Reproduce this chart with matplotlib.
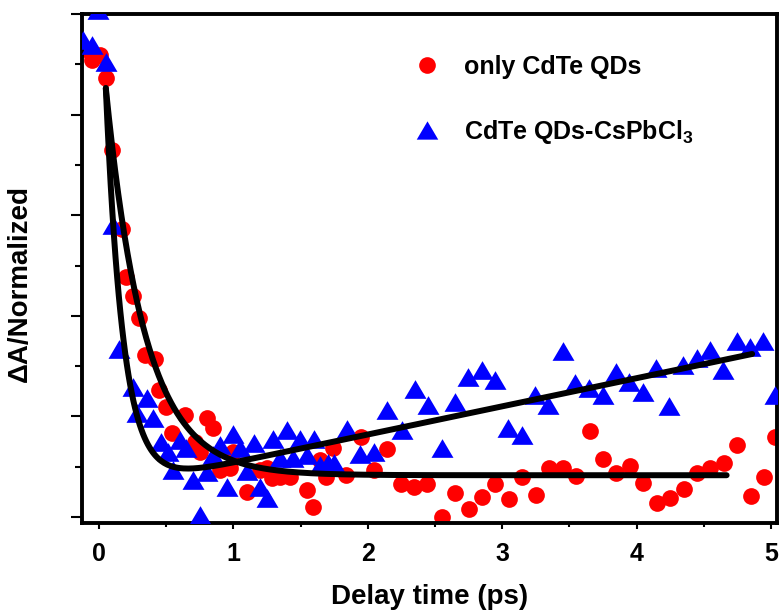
import numpy as np
import matplotlib
matplotlib.use("Agg")
import matplotlib.pyplot as plt
from matplotlib.lines import Line2D
from matplotlib.ticker import MultipleLocator, NullFormatter

plt.rcParams["font.family"] = ["Liberation Sans", "DejaVu Sans"]
plt.rcParams["font.weight"] = "bold"
plt.rcParams["mathtext.fontset"] = "custom"
plt.rcParams["mathtext.rm"] = "Liberation Sans:bold"
plt.rcParams["mathtext.bf"] = "Liberation Sans:bold"

# only CdTe QDs
red_t = [-0.11, -0.054, 0.007, 0.05, 0.099, 0.169, 0.20, 0.25, 0.30, 0.342, 0.417,
         0.449, 0.50, 0.54, 0.64, 0.714, 0.75, 0.80, 0.85, 0.90, 0.975, 1.0, 1.10,
         1.20, 1.25, 1.29, 1.35, 1.42, 1.545, 1.595, 1.645, 1.69, 1.74, 1.84, 1.95,
         2.046, 2.145, 2.245, 2.344, 2.443, 2.55, 2.65, 2.75, 2.85, 2.95, 3.05,
         3.15, 3.25, 3.35, 3.45, 3.55, 3.65, 3.75, 3.85, 3.95, 4.05, 4.15, 4.25,
         4.35, 4.45, 4.55, 4.65, 4.75, 4.85, 4.95, 5.03]
red_y = [0.93, 0.909, 0.918, 0.873, 0.730, 0.573, 0.478, 0.439, 0.396, 0.322, 0.314,
         0.252, 0.219, 0.167, 0.203, 0.150, 0.130, 0.196, 0.176, 0.093, 0.097, 0.130,
         0.050, 0.093, 0.097, 0.078, 0.080, 0.080, 0.054, 0.020, 0.113, 0.080, 0.137,
         0.083, 0.159, 0.093, 0.135, 0.066, 0.060, 0.066, 0.0, 0.048, 0.016, 0.040,
         0.066, 0.036, 0.080, 0.044, 0.097, 0.097, 0.082, 0.171, 0.115, 0.087, 0.101,
         0.068, 0.028, 0.037, 0.055, 0.087, 0.097, 0.108, 0.143, 0.042, 0.079, 0.159]

# CdTe QDs-CsPbCl3
blue_t = [-0.12, -0.054, -0.007, 0.052, 0.106, 0.151, 0.251, 0.28, 0.355, 0.404,
          0.461, 0.516, 0.553, 0.603, 0.647, 0.702, 0.751, 0.801, 0.85, 0.90, 0.95,
          1.0, 1.05, 1.10, 1.15, 1.195, 1.246, 1.297, 1.349, 1.399, 1.446, 1.496,
          1.548, 1.597, 1.647, 1.70, 1.75, 1.845, 1.944, 2.044, 2.146, 2.252, 2.351,
          2.45, 2.55, 2.649, 2.748, 2.848, 2.946, 3.045, 3.145, 3.244, 3.343, 3.45,
          3.545, 3.648, 3.748, 3.847, 3.946, 4.045, 4.144, 4.243, 4.347, 4.447,
          4.546, 4.645, 4.745, 4.844, 4.943, 5.03]
blue_y = [0.948, 0.938, 1.009, 0.905, 0.581, 0.335, 0.259, 0.206, 0.236, 0.196,
          0.150, 0.130, 0.093, 0.153, 0.137, 0.074, 0.004, 0.090, 0.123, 0.143, 0.059,
          0.165, 0.138, 0.091, 0.147, 0.059, 0.037, 0.155, 0.117, 0.173, 0.117, 0.156,
          0.123, 0.156, 0.103, 0.107, 0.107, 0.175, 0.125, 0.130, 0.213, 0.172, 0.254,
          0.223, 0.137, 0.229, 0.279, 0.292, 0.272, 0.176, 0.163, 0.243, 0.223, 0.330,
          0.266, 0.256, 0.243, 0.289, 0.269, 0.249, 0.296, 0.221, 0.302, 0.316,
          0.332, 0.292, 0.349, 0.339, 0.349, 0.243]

# fit parameters (exponential decay + offset / linear rise)
red_fit = dict(t0=0.05, t1=4.67, amp=0.77, tau=0.29, offset=0.083)
blue_fit = dict(t0=0.05, t1=4.86, amp=0.798, tau=0.13, offset=0.052, slope=0.056)

fig = plt.figure(figsize=(7.82, 6.16), dpi=100)
ax = fig.add_axes([0.1049, 0.151, 0.8887, 0.826])

tri = [(0, 0.85), (-1, -0.85), (1, -0.85), (0, 0.85)]
ax.scatter(red_t, red_y, s=145, c="#ff0000", marker="o", linewidths=0, zorder=2)
ax.scatter(blue_t, blue_y, s=250, c="#0000ff", marker=tri, linewidths=0, zorder=3)

tr = np.linspace(red_fit["t0"], red_fit["t1"], 400)
yr = red_fit["amp"] * np.exp(-(tr - red_fit["t0"]) / red_fit["tau"]) + red_fit["offset"]
ax.plot(tr, yr, color="black", lw=4.3, solid_capstyle="round", zorder=4)

tb = np.linspace(blue_fit["t0"], blue_fit["t1"], 400)
yb = (blue_fit["amp"] * np.exp(-(tb - blue_fit["t0"]) / blue_fit["tau"])
      + blue_fit["offset"] + blue_fit["slope"] * tb)
ax.plot(tb, yb, color="black", lw=4.3, solid_capstyle="round", zorder=4)

ax.set_xlim(-0.127, 5.045)
ax.set_ylim(-0.012, 1.0)

for s in ax.spines.values():
    s.set_linewidth(2.8)

ax.xaxis.set_major_locator(MultipleLocator(1))
ax.xaxis.set_minor_locator(MultipleLocator(0.5))
ax.yaxis.set_major_locator(MultipleLocator(0.2))
ax.yaxis.set_minor_locator(MultipleLocator(0.1))
ax.yaxis.set_major_formatter(NullFormatter())
ax.tick_params(axis="x", which="major", length=4, width=1.5, pad=10, labelsize=18)
ax.tick_params(axis="x", which="minor", length=3, width=1.5)
ax.tick_params(axis="y", which="major", length=8, width=1.5)
ax.tick_params(axis="y", which="minor", length=5, width=1.5)

ax.set_xlabel("Delay time (ps)", fontsize=20, fontweight="bold", va="center")
ax.xaxis.set_label_coords(0.5, -0.145)
ax.set_ylabel("ΔA/Normalized", fontsize=20, fontweight="bold", va="center")
ax.yaxis.set_label_coords(-0.089, 0.47)

handles = [
    Line2D([], [], ls="none", marker="o", color="#ff0000", markersize=12, markeredgewidth=0),
    Line2D([], [], ls="none", marker=tri, color="#0000ff", markersize=15.5, markeredgewidth=0),
]
labels = ["only CdTe QDs", r"CdTe QDs-CsPbCl$_3$"]
ax.legend(handles, labels, loc="upper left", bbox_to_anchor=(414 / 782, 1 - 55 / 616),
          bbox_transform=fig.transFigure, frameon=False, fontsize=18,
          handlelength=1.0, handletextpad=1.0, labelspacing=1.55,
          borderpad=0, borderaxespad=0)

fig.savefig("out.png", dpi=100)
